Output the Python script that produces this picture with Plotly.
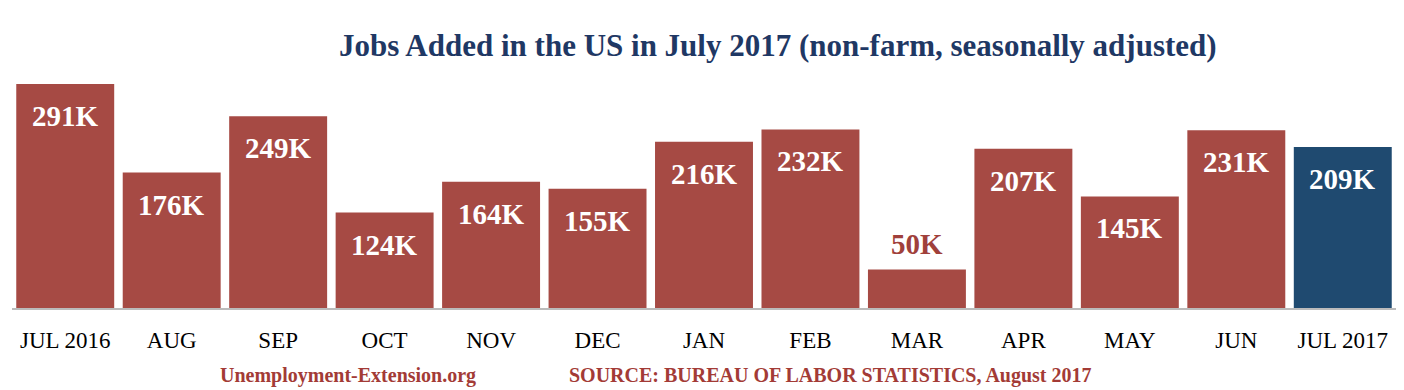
import plotly.graph_objects as go

months = ["JUL 2016", "AUG", "SEP", "OCT", "NOV", "DEC", "JAN", "FEB", "MAR", "APR", "MAY", "JUN", "JUL 2017"]
jobs_k = [291, 176, 249, 124, 164, 155, 216, 232, 50, 207, 145, 231, 209]
labels = [f"{v}K" for v in jobs_k]

RED = "#A64A44"
BLUE = "#1F4A70"
colors = [RED] * (len(months) - 1) + [BLUE]

fig = go.Figure()
fig.add_trace(go.Bar(x=months, y=jobs_k, marker=dict(color=colors, line=dict(width=0)),
                     hoverinfo="skip"))

ml, mr, mt, mb = 12, 8, 84, 82
W, H = 1404, 390
pw = W - ml - mr
ph = H - mt - mb

def px_x(p):
    return (p - ml) / pw

def px_y(p):
    return (H - mb - p) / ph

for m, v, lab in zip(months, jobs_k, labels):
    if v >= 100:
        fig.add_annotation(x=m, y=v, text=f"<b>{lab}</b>", showarrow=False,
                           yanchor="middle", yshift=-32,
                           font=dict(family="Liberation Serif", size=29, color="white"))
    else:
        fig.add_annotation(x=m, y=v, text=f"<b>{lab}</b>", showarrow=False,
                           yanchor="middle", yshift=26,
                           font=dict(family="Liberation Serif", size=29, color="#A0403B"))

fig.add_annotation(xref="paper", yref="paper", x=px_x(778), y=px_y(46),
                   text="<b>Jobs Added in the US in July 2017 (non-farm, seasonally adjusted)</b>",
                   showarrow=False, xanchor="center", yanchor="middle",
                   font=dict(family="Liberation Serif", size=31, color="#1F3864"))

fig.add_annotation(xref="paper", yref="paper", x=px_x(218), y=px_y(375),
                   text="<b>Unemployment-Extension.org</b>",
                   showarrow=False, xanchor="left", yanchor="middle",
                   font=dict(family="Liberation Serif", size=20, color="#A33B36"))
fig.add_annotation(xref="paper", yref="paper", x=px_x(567), y=px_y(375),
                   text="<b>SOURCE: BUREAU OF LABOR STATISTICS, August 2017</b>",
                   showarrow=False, xanchor="left", yanchor="middle",
                   font=dict(family="Liberation Serif", size=20, color="#A33B36"))

fig.update_layout(
    width=W, height=H,
    margin=dict(l=ml, r=mr, t=mt, b=mb),
    paper_bgcolor="white", plot_bgcolor="white",
    bargap=0.08,
    showlegend=False,
    xaxis=dict(showgrid=False, zeroline=False, showline=True, linecolor="#BBBBBB", linewidth=2,
               ticks="", ticklabelstandoff=10,
               tickfont=dict(family="Liberation Serif", size=23, color="black")),
    yaxis=dict(range=[0, 291], visible=False, showgrid=False, zeroline=False),
)

fig.write_html("out.html", config={"displayModeBar": False},
               post_script="document.body.style.margin='0';document.body.style.overflow='hidden';")
